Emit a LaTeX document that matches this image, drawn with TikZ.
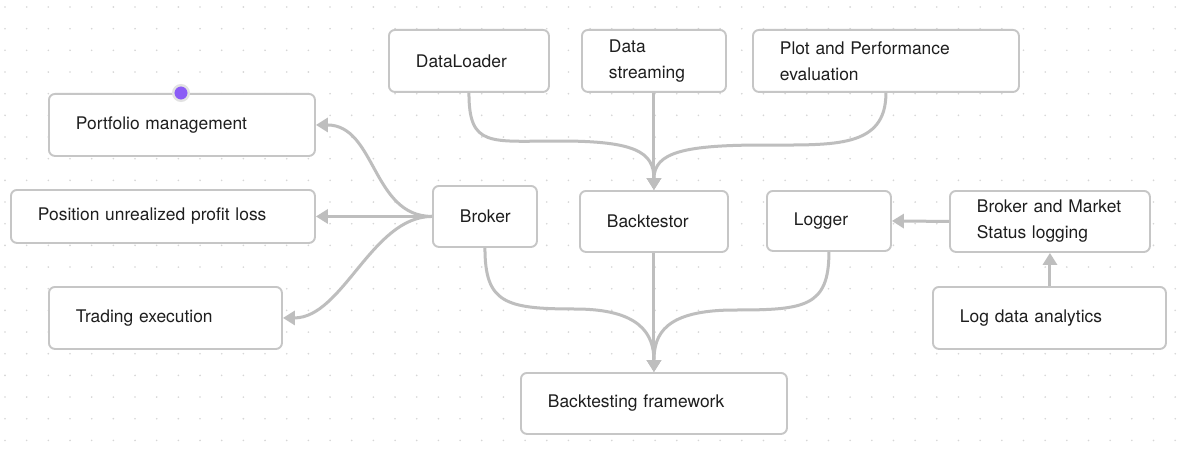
\documentclass[tikz,border=0pt]{standalone}
\usepackage{fontspec}
\setmainfont{TeX Gyre Heros}
\usetikzlibrary{arrows.meta}
\definecolor{boxc}{HTML}{C6C6C6}
\definecolor{connc}{HTML}{BEBEBE}
\definecolor{dotc}{HTML}{D6D6D6}
\definecolor{txtc}{HTML}{1E1E1E}
\definecolor{violetdot}{HTML}{8B5CF6}
\definecolor{ringc}{HTML}{E2E2E2}
\begin{document}
\begin{tikzpicture}[x=1pt,y=-1pt,
  box/.style={draw=boxc, line width=1.9pt, rounded corners=6pt, fill=white,
    inner xsep=27pt, inner ysep=0pt, align=left, anchor=north west,
    font=\fontsize{17.4}{26}\selectfont, text=txtc},
  conn/.style={draw=connc, line width=3pt, -{Triangle[length=12pt,width=14pt]}}]
\useasboundingbox (0,0) rectangle (1179,452);
\fill[white] (0,0) rectangle (1179,452);
% dot grid
\foreach \i in {0,...,54}{
  \foreach \j in {0,...,20}{
    \fill[dotc] ({5+21.67*\i},{7+21.67*\j}) circle (0.9pt);
  }
}
% boxes
\node[box, text width=106pt, minimum height=62pt] (dl) at (388,29) {DataLoader};
\node[box, text width=90pt, minimum height=62pt] (ds) at (581,29) {Data\\streaming};
\node[box, text width=212pt, minimum height=62pt] (pl) at (752,29) {Plot and Performance\\evaluation};
\node[box, text width=212pt, minimum height=62pt] (pm) at (48,93) {Portfolio management};
\node[box, text width=250pt, minimum height=53pt] (pu) at (10,189) {Position unrealized profit loss};
\node[box, text width=50pt, minimum height=61pt] (br) at (432,185) {Broker};
\node[box, text width=94pt, minimum height=61pt] (bt) at (579,190) {Backtestor};
\node[box, text width=70pt, minimum height=60pt] (lg) at (766,190) {Logger};
\node[box, text width=146pt, minimum height=61pt] (bm) at (949,190) {Broker and Market\\Status logging};
\node[box, text width=179pt, minimum height=62pt] (te) at (48,286) {Trading execution};
\node[box, text width=179pt, minimum height=62pt] (la) at (932,286) {Log data analytics};
\node[box, text width=212pt, minimum height=61pt] (bf) at (520,372) {Backtesting framework};
% purple handle
\coordinate (hd) at (181,93);
\fill[violetdot, draw=ringc, line width=2.4pt] (hd) circle (7.8pt);
% connectors into Backtestor
\draw[conn] (dl.south) .. controls +(0,55) and +(-70,0) .. (560,141)
  .. controls +(75,0) and +(0,-38) .. (bt.north);
\draw[conn] (ds.south) -- (bt.north);
\draw[conn] (pl.south) .. controls +(0,55) and +(70,0) .. (765,145)
  .. controls +(-80,0) and +(0,-38) .. (bt.north);
% broker to left boxes
\draw[conn] (br.west) .. controls +(-60,0) and +(60,0) .. (pm.east);
\draw[conn] (br.west) -- (pu.east);
\draw[conn] (br.west) .. controls +(-60,0) and +(60,0) .. (te.east);
% into Backtesting framework
\draw[conn] (br.south) .. controls +(0,55) and +(-70,0) .. (575,309)
  .. controls +(65,0) and +(0,-38) .. (bf.north);
\draw[conn] (bt.south) -- (bf.north);
\draw[conn] (lg.south) .. controls +(0,55) and +(70,0) .. (735,310)
  .. controls +(-70,0) and +(0,-38) .. (bf.north);
% logging side
\draw[conn] (bm.west) -- (lg.east);
\draw[conn] (la.north -| bm.south) -- (bm.south);
\end{tikzpicture}
\end{document}
